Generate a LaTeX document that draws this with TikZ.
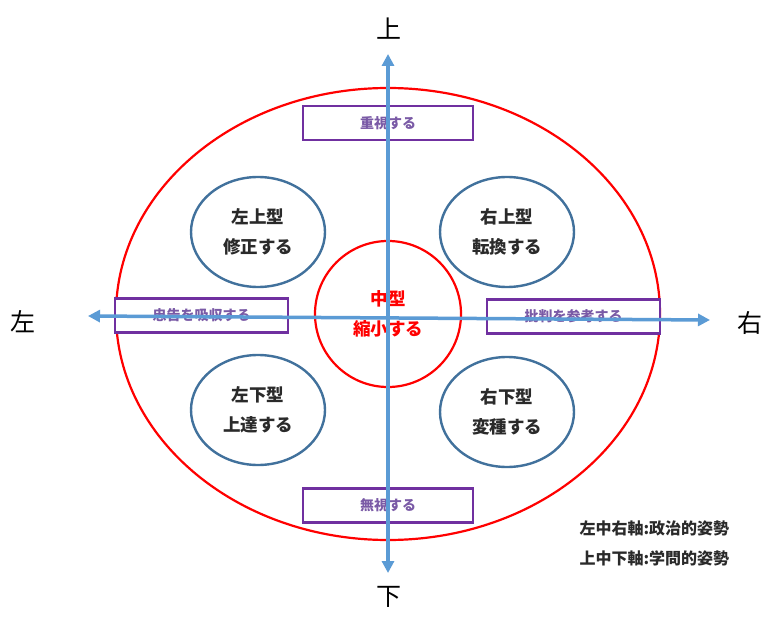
\documentclass[tikz,border=0pt]{standalone}
\usepackage{fontspec}
\setmainfont{Noto Sans CJK JP}
\usetikzlibrary{arrows.meta,shapes.geometric}
\definecolor{axisblue}{HTML}{5B9BD5}
\definecolor{ellblue}{HTML}{41719C}
\definecolor{purp}{HTML}{7030A0}
\definecolor{purptext}{HTML}{7A5AA6}
\definecolor{txt}{HTML}{2A2A2A}
\tikzset{
  typeell/.style={draw=ellblue, line width=2.4pt, fill=white, ellipse, minimum width=134pt, minimum height=110pt, align=center, font=\fontsize{17.5}{30}\selectfont\bfseries, text=txt},
  attbox/.style={draw=purp, line width=2.5pt, fill=white, minimum width=170pt, minimum height=34pt, font=\fontsize{14}{16}\selectfont\bfseries, text=purptext},
  axis/.style={draw=axisblue, line width=3.5pt, {Triangle[length=12pt,width=12pt]}-{Triangle[length=12pt,width=12pt]}},
  dirlabel/.style={font=\fontsize{25}{26}\selectfont, text=black},
}
\begin{document}
\begin{tikzpicture}[x=1pt,y=-1pt]
\useasboundingbox (0,0) rectangle (762,617);
\fill[white] (0,0) rectangle (762,617);
% outer red ellipse
\draw[red, line width=2.2pt] (388,314) ellipse [x radius=272, y radius=226];
% type ellipses
\node[typeell] (ul) at (258,232) {左上型\\修正する};
\node[typeell] (ur) at (507,232) {右上型\\転換する};
\node[typeell] (ll) at (258,410) {左下型\\上達する};
\node[typeell] (lr) at (507,412) {右下型\\変種する};
% center circle
\node[draw=red, line width=2.2pt, circle, minimum size=146pt, align=center, font=\fontsize{17.5}{30}\selectfont\bfseries, text=red] (mid) at (388,314) {中型\\縮小する};
% attitude boxes
\node[attbox] (top) at (388,123) {重視する};
\node[attbox, minimum width=173pt] (left) at (201.5,315.5) {忠告を吸収する};
\node[attbox, minimum width=173pt] (right) at (573.5,316.5) {批判を参考する};
\node[attbox] (bot) at (388,505.5) {無視する};
% axes
\coordinate (ytop) at (388,54);
\coordinate (ybot) at (388,573);
\coordinate (xl) at (88,316);
\coordinate (xr) at (710,320);
\draw[axis] (ybot) -- (ytop);
\draw[axis] (xl) -- (xr);
% direction labels
\node[dirlabel] (lu) at (389,29) {上};
\node[dirlabel] (ld) at (389,597) {下};
\node[dirlabel] (lL) at (23,322) {左};
\node[dirlabel] (lR) at (750,323) {右};
% legend
\node[anchor=west, align=left, font=\fontsize{16}{30}\selectfont\bfseries, text=txt] (legend) at (576,543) {左中右軸:政治的姿勢\\上中下軸:学問的姿勢};
\end{tikzpicture}
\end{document}
